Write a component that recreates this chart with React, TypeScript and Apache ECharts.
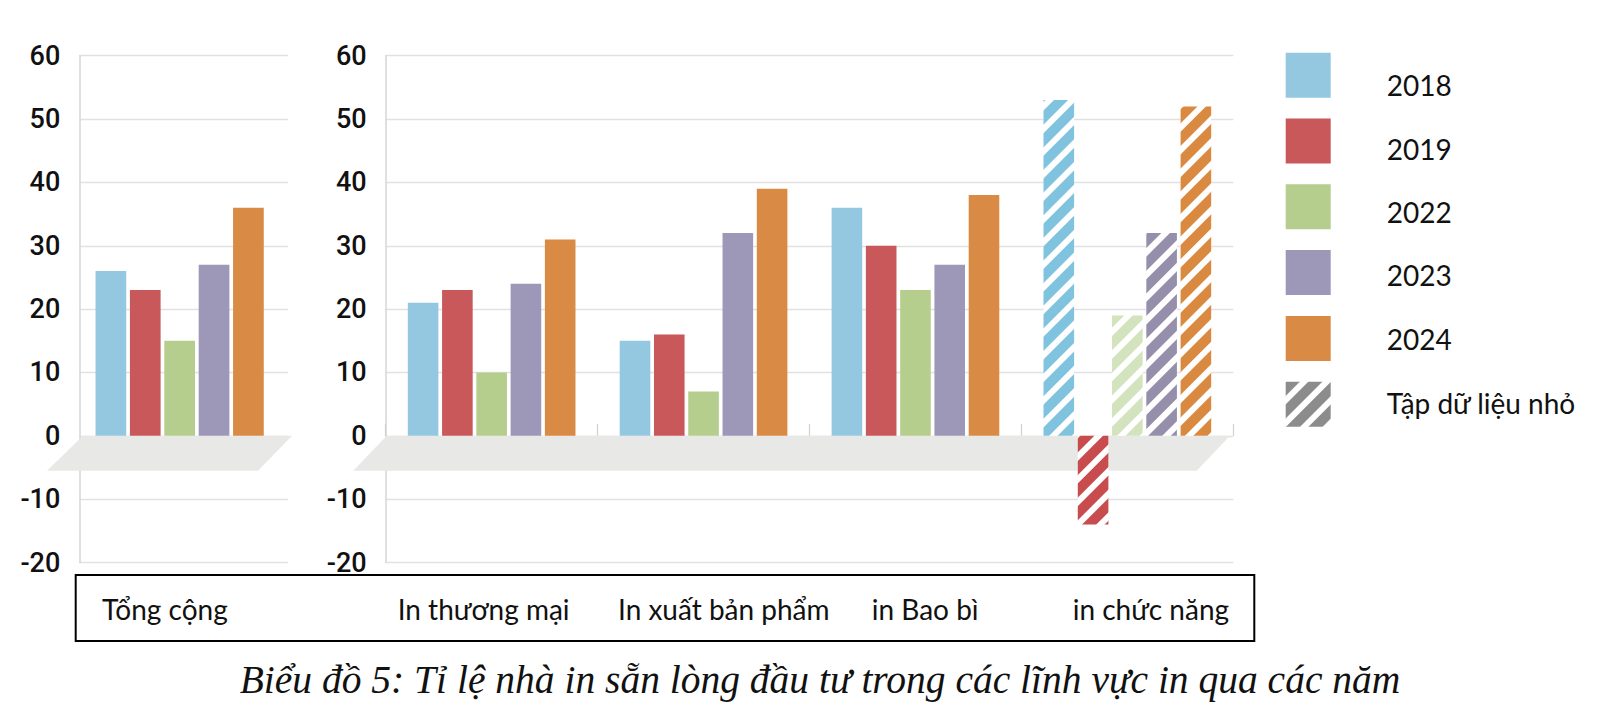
import React, { useEffect, useRef } from "react";
import * as echarts from "echarts";

// ---------- data ----------
const years = ["2018", "2019", "2022", "2023", "2024"];
const smallSetName = "Tập dữ liệu nhỏ";
const totalCategory = ["Tổng cộng"];
const sectorCategories = ["In thương mại", "In xuất bản phẩm", "in Bao bì", "in chức năng"];
const totalValues = [26, 23, 15, 27, 36];
const commercialValues = [21, 23, 10, 24, 31];
const publicationValues = [15, 16, 7, 32, 39];
const packagingValues = [36, 30, 23, 27, 38];
const functionalValues = [53, -14, 19, 32, 52]; // small data set (hatched)
const yMin = -20;
const yMax = 60;
const yStep = 10;
const captionText = "Biểu đồ 5: Tỉ lệ nhà in sẵn lòng đầu tư trong các lĩnh vực in qua các năm";

// ---------- styles ----------
const solidColors = ["#94c8e1", "#c9585b", "#b5cd8d", "#9d97b8", "#d98a44"];
const hatchColors = ["#7fc3df", "#c84b4e", "#d3e3bd", "#958fab", "#d98a40"];
const smallSetHatch = "#8c8c8c";
const floorColor = "#e8e8e6";
const gridLineColor = "#e1e1e1";
const axisLineColor = "#d6d6d6";
const tickFont = "Roboto, 'Noto Sans', sans-serif";
const labelFont = "Lato, 'Noto Sans', sans-serif";

// ---------- layout ----------
const GRID_TOP = 55.7;
const GRID_H = 506.8;
const LEFT_X = 79.3;
const LEFT_W = 208.7;
const BARS_LEFT_SHIFT = -4;
const MID_X = 385.7;
const MID_W = 847.6;
const boxLabelX = [102, 397.7, 618, 871.8, 1072.7];
const legendTextY = [85, 148.7, 212, 275, 338.5, 403];

const hatch = (color: string) => ({
  symbol: "rect",
  symbolSize: 1,
  dashArrayX: [1, 0],
  dashArrayY: [10, 6],
  rotation: -Math.PI / 4,
  color,
});

const valueAxis = (gridIndex: number, visible: boolean) => ({
  type: "value",
  gridIndex,
  min: yMin,
  max: yMax,
  interval: yStep,
  show: visible,
  axisLine: { show: visible, lineStyle: { color: axisLineColor, width: 1.5 } },
  axisTick: { show: false },
  splitLine: { show: visible, lineStyle: { color: gridLineColor, width: 1.3 } },
  axisLabel: {
    show: visible,
    margin: 19,
    color: "#111",
    fontSize: 27,
    fontWeight: 500,
    fontFamily: tickFont,
  },
});

function buildOption() {
  const series: any[] = [];
  years.forEach((year, i) => {
    series.push({
      type: "bar",
      name: year,
      xAxisIndex: 1,
      yAxisIndex: 1,
      barWidth: 30.7,
      barGap: "12%",
      z: 3,
      itemStyle: { color: solidColors[i] },
      data: [totalValues[i]],
    });
  });
  years.forEach((year, i) => {
    series.push({
      type: "bar",
      name: year,
      xAxisIndex: 2,
      yAxisIndex: 2,
      barWidth: 30.6,
      barGap: "12%",
      z: 3,
      itemStyle: { color: solidColors[i] },
      data: [
        commercialValues[i],
        publicationValues[i],
        packagingValues[i],
        { value: functionalValues[i], itemStyle: { color: "#ffffff", decal: hatch(hatchColors[i]) } },
      ],
    });
  });
  series.push({
    type: "bar",
    name: smallSetName,
    xAxisIndex: 0,
    yAxisIndex: 0,
    itemStyle: { color: "#ffffff", decal: hatch(smallSetHatch) },
    data: [],
  });

  return {
    animation: false,
    backgroundColor: "#ffffff",
    grid: [
      { left: LEFT_X, top: GRID_TOP, width: LEFT_W, height: GRID_H, outerBoundsMode: "none" },
      { left: LEFT_X + BARS_LEFT_SHIFT, top: GRID_TOP, width: LEFT_W, height: GRID_H, outerBoundsMode: "none" },
      { left: MID_X, top: GRID_TOP, width: MID_W, height: GRID_H, outerBoundsMode: "none" },
    ],
    xAxis: [
      {
        type: "category",
        gridIndex: 0,
        data: totalCategory,
        axisLine: { show: false, onZero: true },
        axisTick: { show: false },
        axisLabel: { show: false },
      },
      {
        type: "category",
        gridIndex: 1,
        data: totalCategory,
        show: false,
      },
      {
        type: "category",
        gridIndex: 2,
        data: sectorCategories,
        axisLine: { show: false, onZero: true },
        axisTick: { show: true, inside: true, length: 12, lineStyle: { color: "#cfcfcf", width: 1.2 } },
        axisLabel: { show: false },
      },
    ],
    yAxis: [valueAxis(0, true), valueAxis(1, false), valueAxis(2, true)],
    legend: {
      orient: "vertical",
      left: 1285.7,
      top: 52.7,
      padding: 0,
      itemWidth: 45,
      itemHeight: 45,
      itemGap: 20.8,
      icon: "rect",
      selectedMode: false,
      data: [...years, smallSetName],
      formatter: () => "",
      textStyle: { fontSize: 12 },
    },
    series,
  };
}

function buildGraphic(chart: echarts.ECharts) {
  const y0 = chart.convertToPixel({ yAxisIndex: 0 }, 0) as number;
  const depth = 35;
  const floors = [
    { tl: LEFT_X + 3.7, tr: LEFT_X + LEFT_W + 4, bl: LEFT_X - 32.3, br: LEFT_X + LEFT_W - 30 },
    { tl: MID_X + 1, tr: MID_X + MID_W - 3.3, bl: MID_X - 32.4, br: MID_X + MID_W - 36.6 },
  ];
  const elements: any[] = floors.map((f) => ({
    type: "polygon",
    z: 1,
    silent: true,
    shape: { points: [[f.tl, y0], [f.tr, y0], [f.br, y0 + depth], [f.bl, y0 + depth]] },
    style: { fill: floorColor },
  }));
  elements.push({
    type: "rect",
    z: 5,
    silent: true,
    shape: { x: 75.7, y: 575, width: 1178.6, height: 66 },
    style: { fill: "none", stroke: "#000", lineWidth: 2 },
  });
  const boxLabels = [...totalCategory, ...sectorCategories];
  boxLabels.forEach((t, i) => {
    elements.push({
      type: "text",
      z: 6,
      x: boxLabelX[i],
      y: 609,
      style: {
        text: t,
        fill: "#111",
        fontSize: 28,
        fontFamily: labelFont,
        align: "left",
        verticalAlign: "middle",
        textAlign: "left",
        textVerticalAlign: "middle",
      },
    });
  });
  [...years, smallSetName].forEach((t, i) => {
    elements.push({
      type: "text",
      z: 6,
      x: 1386.7,
      y: legendTextY[i],
      style: {
        text: t,
        fill: "#111",
        fontSize: 28,
        fontFamily: labelFont,
        align: "left",
        verticalAlign: "middle",
        textAlign: "left",
        textVerticalAlign: "middle",
      },
    });
  });
  elements.push({
    type: "text",
    z: 6,
    x: 820,
    y: 680,
    style: {
      text: captionText,
      fill: "#111",
      fontSize: 39.5,
      fontStyle: "italic",
      fontFamily: "'Liberation Serif', 'DejaVu Serif', serif",
      align: "center",
      verticalAlign: "middle",
      textAlign: "center",
      textVerticalAlign: "middle",
    },
  });
  return elements;
}

export default function App() {
  const ref = useRef<HTMLDivElement>(null);
  useEffect(() => {
    if (!ref.current) return;
    const chart = echarts.init(ref.current, undefined, { renderer: "svg" });
    chart.setOption(buildOption() as any);
    chart.setOption({ graphic: { elements: buildGraphic(chart) } } as any);
    return () => chart.dispose();
  }, []);
  return (
    <div
      ref={ref}
      style={{ position: "absolute", left: 0, top: 0, width: 1600, height: 710, background: "#fff" }}
    />
  );
}
